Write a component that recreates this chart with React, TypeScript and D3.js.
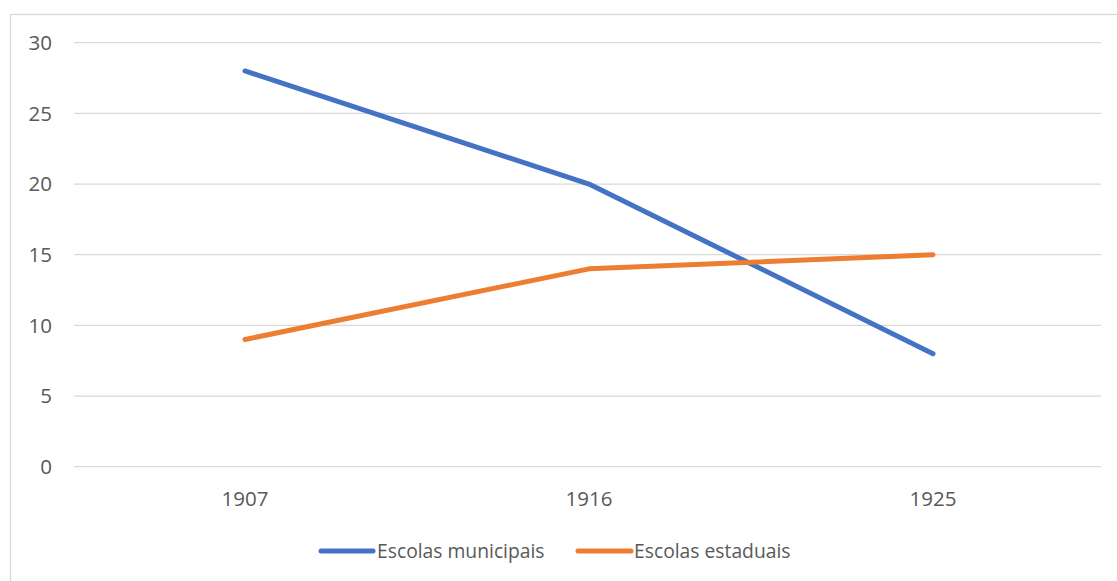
import React from "react";
import * as d3 from "d3";

const categories = ["1907", "1916", "1925"];
const municipais = [28, 20, 8];
const estaduais = [9, 14, 15];
const yTicks = [0, 5, 10, 15, 20, 25, 30];
const seriesNames = ["Escolas municipais", "Escolas estaduais"];
const seriesColors = ["#4472C4", "#ED7D31"];

const W = 1117;
const H = 581;
const FONT = "'Open Sans', sans-serif";

export default function App() {
  const x = d3.scaleBand<string>().domain(categories).range([73, 1105]);
  const y = d3.scaleLinear().domain([0, 30]).range([466.7, 42.7]);
  const cx = (c: string) => (x(c) ?? 0) + x.bandwidth() / 2;
  const line = d3
    .line<number>()
    .x((_, i) => cx(categories[i]))
    .y((d) => y(d));
  const series = [municipais, estaduais];
  const legendItems = [
    { x0: 321, x1: 373, tx: 377 },
    { x0: 578, x1: 631, tx: 634 },
  ];
  return (
    <svg
      width={W}
      height={H}
      style={{ position: "absolute", left: 0, top: 0, background: "#fff" }}
      fontFamily={FONT}
    >
      <rect x={10.5} y={14.5} width={W + 20} height={H + 20} fill="#fff" stroke="#d9d9d9" strokeWidth={1.3} />
      {yTicks.map((t) => (
        <g key={t}>
          <line x1={74} x2={1101} y1={y(t)} y2={y(t)} stroke="#d9d9d9" strokeWidth={1.3} />
          <text x={52} y={y(t)} dy="0.36em" textAnchor="end" fontSize={20.5} fill="#595959">
            {t}
          </text>
        </g>
      ))}
      {categories.map((c) => (
        <text key={c} x={cx(c)} y={499} dy="0.36em" textAnchor="middle" fontSize={20.5} fill="#595959">
          {c}
        </text>
      ))}
      {series.map((s, i) => (
        <path
          key={i}
          d={line(s) ?? ""}
          fill="none"
          stroke={seriesColors[i]}
          strokeWidth={5}
          strokeLinecap="round"
          strokeLinejoin="round"
        />
      ))}
      {legendItems.map((l, i) => (
        <g key={i}>
          <line x1={l.x0} x2={l.x1} y1={551} y2={551} stroke={seriesColors[i]} strokeWidth={5} strokeLinecap="round" />
          <text x={l.tx} y={551} dy="0.36em" fontSize={19.3} fill="#595959">
            {seriesNames[i]}
          </text>
        </g>
      ))}
    </svg>
  );
}
